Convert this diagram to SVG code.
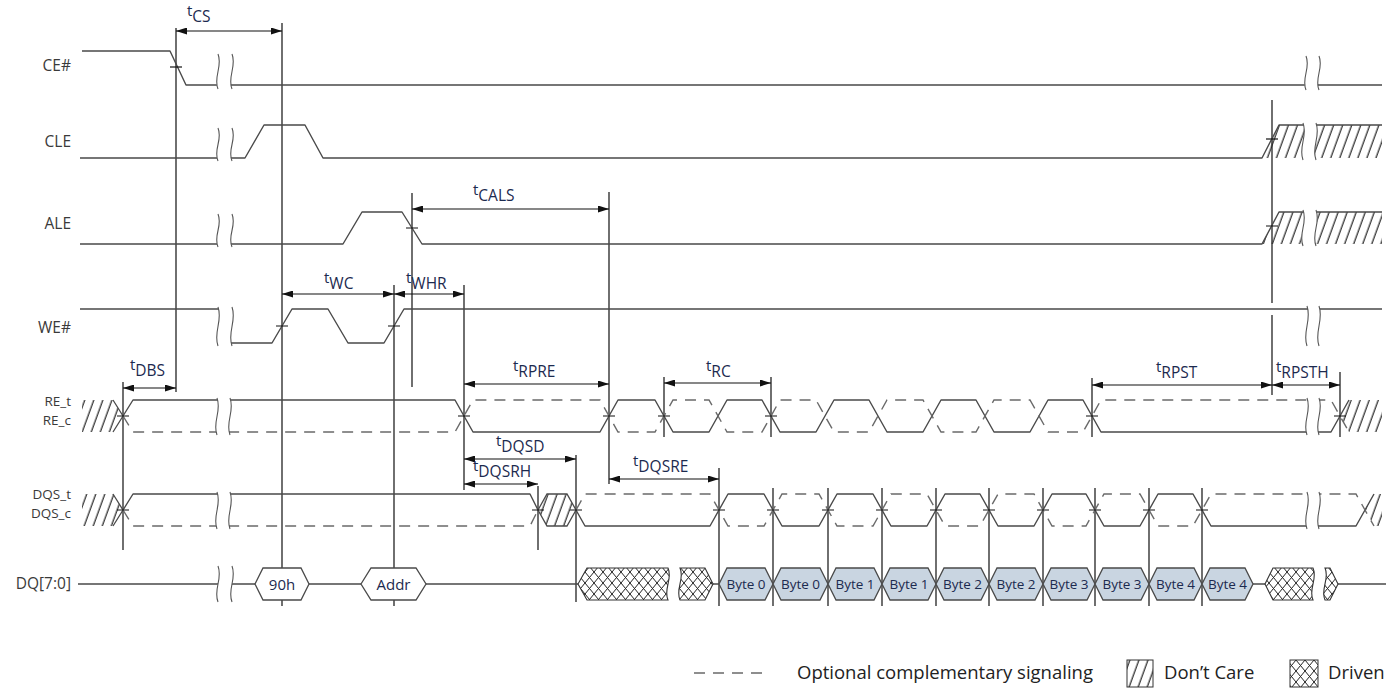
<svg xmlns="http://www.w3.org/2000/svg" width="1400" height="691" viewBox="0 0 1400 691">
<style>
.sig{fill:none;stroke:#4a4a4a;stroke-width:1.4;stroke-linejoin:round}
.dash{fill:none;stroke:#6a6a6a;stroke-width:1.4;stroke-dasharray:11 8}
.vl{stroke:#111;stroke-width:1.2;fill:none}
.tick{stroke:#111;stroke-width:1.2;fill:none}
.arr{stroke:#111;stroke-width:1.2;fill:none}
.lbl{font-family:"Open Sans","Liberation Sans",sans-serif;font-size:15.5px;fill:#3a3a3a;text-anchor:end}
.lbs{font-family:"Open Sans","Liberation Sans",sans-serif;font-size:13.5px;fill:#3a3a3a;text-anchor:end}
.tl{font-family:"Open Sans","Liberation Sans",sans-serif;font-size:15px;fill:#1c2a4f}
.hx{fill:#fff;stroke:#4a4a4a;stroke-width:1.3}
.bx{fill:#c9d5e1;stroke:#4a4a4a;stroke-width:1.3}
.bt{font-family:"Open Sans","Liberation Sans",sans-serif;font-size:13.5px;fill:#1c2a4f;text-anchor:middle}
.ht{font-family:"Open Sans","Liberation Sans",sans-serif;font-size:15px;fill:#1c2a4f;text-anchor:middle}
.gap{fill:#fff;stroke:none}
.sq{fill:none;stroke:#555;stroke-width:1.1}
.hatch{fill:url(#hp);stroke:none}
.hol{fill:none;stroke:#4a4a4a;stroke-width:1.3}
.drv{fill:url(#dp);stroke:#333;stroke-width:1.1}
.leg{font-family:"Open Sans","Liberation Sans",sans-serif;font-size:18.5px;fill:#222}
</style>
<defs>
<marker id="ah" viewBox="0 0 11 7" refX="11" refY="3.5" markerWidth="11" markerHeight="7" markerUnits="userSpaceOnUse" orient="auto-start-reverse"><path d="M0,0 L11,3.5 L0,7 Z" fill="#111"/></marker>
<pattern id="hp" patternUnits="userSpaceOnUse" width="8.5" height="8" patternTransform="rotate(20)"><path d="M4,-1 V9" stroke="#222" stroke-width="1.2"/></pattern>
<pattern id="dp" patternUnits="userSpaceOnUse" width="9" height="11"><path d="M0,0 L9,11 M9,0 L0,11" stroke="#222" stroke-width="1"/></pattern>
</defs>
<rect width="1400" height="691" fill="#fff"/>

<g id="verticals">
<path class="vl" d="M176,28 V392 M282,23 V606 M412,193 V387 M394,285 V606 M464,285 V490 M609,192 V484 M123,382 V550 M538,486 V550 M576,455 V602 M664,377 V437 M771,377 V437 M1092,378 V437 M1340,372 V437 M1272,100 V303 M1272,315 V395 M719,468 V606 M773,488 V606 M828,488 V606 M882,488 V606 M936,488 V606 M989,488 V606 M1043,488 V606 M1095,488 V606 M1149,488 V606 M1202,488 V606"/>
</g>

<g id="ce">
<text class="lbl" x="71" y="71">CE#</text>
<path class="sig" d="M82,51 H170 L186,85 H1382"/>
<path class="tick" d="M170,67 H182"/>
</g>

<g id="cle">
<text class="lbl" x="71" y="147">CLE</text>
<polygon class="hatch" points="1262,158 1279,125 1382,125 1382,158"/>
<path class="sig" d="M80,158 H245 L264,125 H305 L323,158 H1262 L1279,125 H1382"/>
<path class="tick" d="M1266,139 H1278"/>
</g>

<g id="ale">
<text class="lbl" x="71" y="229">ALE</text>
<polygon class="hatch" points="1262,244 1279,212 1382,212 1382,244"/>
<path class="sig" d="M80,244 H343 L362,212 H402 L422,244 H1262 L1279,212 H1382"/>
<path class="tick" d="M406,228 H418 M1266,226 H1278"/>
</g>

<g id="we">
<text class="lbl" x="71" y="333">WE#</text>
<path class="sig" d="M80,309 H222 L228,343 H272 L292,309 H328 L348,343 H384 L404,309 H1382"/>
<path class="tick" d="M276,326 H288 M388,326 H400"/>
</g>

<g id="re">
<text class="lbs" x="71" y="406">RE_t</text>
<text class="lbs" x="71" y="425">RE_c</text>
<polygon class="hatch" points="82,400 113,400 123,416 113,432 82,432"/>
<path class="hol" d="M113,400 L123,416 L113,432"/>
<polygon class="hatch" points="1340,416 1349,400 1382,400 1382,432 1349,432"/>
<path class="sig" d="M123,416 L133,400 H455 L473,432 H600 L618,400 H655 L673,432 H709 L727,400 H762 L780,432 H816 L834,400 H869 L887,432 H923 L941,400 H976 L994,432 H1030 L1048,400 H1083 L1101,432 H1331 L1349,400"/>
<path class="dash" d="M123,416 L133,432 H455 L473,400 H600 L618,432 H655 L673,400 H709 L727,432 H762 L780,400 H816 L834,432 H869 L887,400 H923 L941,432 H976 L994,400 H1030 L1048,432 H1083 L1101,400 H1331 L1349,432"/>
<path class="tick" d="M117,416 H129 M458,416 H470 M603,416 H615 M658,416 H670 M765,416 H777 M1086,416 H1098 M1334,416 H1346"/>
</g>

<g id="dqs">
<text class="lbs" x="71" y="499">DQS_t</text>
<text class="lbs" x="71" y="518">DQS_c</text>
<polygon class="hatch" points="82,494 113,494 123,510 113,526 82,526"/>
<path class="hol" d="M113,494 L123,510 L113,526"/>
<polygon class="hatch" points="538,510 547,494 567,494 576,510 567,526 547,526"/>
<path class="hol" d="M538,510 L547,494 H567 L576,510 L567,526 H547 Z"/>
<polygon class="hatch" points="1365,510 1374,494 1382,494 1382,526 1374,526"/>
<path class="sig" d="M123,510 L133,494 H530 L538,510 M576,510 L585,526 H710 L728,494 H764 L782,526 H819 L837,494 H873 L891,526 H927 L945,494 H980 L998,526 H1034 L1052,494 H1086 L1104,526 H1140 L1158,494 H1193 L1211,526 H1356 L1365,510 L1374,494"/>
<path class="dash" d="M123,510 L133,526 H530 L538,510 M576,510 L585,494 H710 L728,526 H764 L782,494 H819 L837,526 H873 L891,494 H927 L945,526 H980 L998,494 H1034 L1052,526 H1086 L1104,494 H1140 L1158,526 H1193 L1211,494 H1356 L1365,510 L1374,526"/>
<path class="tick" d="M117,510 H129 M532,510 H544 M570,510 H582 M713,510 H725 M767,510 H779 M822,510 H834 M876,510 H888 M930,510 H942 M983,510 H995 M1037,510 H1049 M1089,510 H1101 M1143,510 H1155 M1196,510 H1208"/>
</g>

<g id="dq">
<text class="lbl" x="71" y="589">DQ[7:0]</text>
<path class="sig" d="M78,584 H255 M309,584 H361 M426,584 H578 M713,584 H719 M1253,584 H1265 M1338,584 H1386"/>
<path class="drv" d="M578,584 L587,568 H668 C673,579 663,589 668,600 H587 Z"/>
<path class="drv" d="M680,568 C685,579 675,589 680,600 H705 L713,584 L705,568 Z"/>
<path class="drv" d="M1265,584 L1273,568 H1313 C1318,579 1308,589 1313,600 H1273 Z"/>
<path class="drv" d="M1325,568 C1330,579 1320,589 1325,600 H1330 L1338,584 L1330,568 Z"/>
<g id="dq-90h"><polygon class="hx" points="255,584 263,568 301,568 309,584 301,600 263,600"/><text class="ht" x="282" y="589.5">90h</text></g>
<g id="dq-addr"><polygon class="hx" points="361,584 371,568 416,568 426,584 416,600 371,600"/><text class="ht" x="393.5" y="589.5">Addr</text></g>
<g id="dq-bytes">
<polygon class="bx" points="719,584 727,568 765,568 773,584 765,600 727,600"/><text class="bt" x="746" y="589">Byte 0</text>
<polygon class="bx" points="773,584 781,568 820,568 828,584 820,600 781,600"/><text class="bt" x="800.5" y="589">Byte 0</text>
<polygon class="bx" points="828,584 836,568 874,568 882,584 874,600 836,600"/><text class="bt" x="855" y="589">Byte 1</text>
<polygon class="bx" points="882,584 890,568 928,568 936,584 928,600 890,600"/><text class="bt" x="909" y="589">Byte 1</text>
<polygon class="bx" points="936,584 944,568 981,568 989,584 981,600 944,600"/><text class="bt" x="962.5" y="589">Byte 2</text>
<polygon class="bx" points="989,584 997,568 1035,568 1043,584 1035,600 997,600"/><text class="bt" x="1016" y="589">Byte 2</text>
<polygon class="bx" points="1043,584 1051,568 1087,568 1095,584 1087,600 1051,600"/><text class="bt" x="1069" y="589">Byte 3</text>
<polygon class="bx" points="1095,584 1103,568 1141,568 1149,584 1141,600 1103,600"/><text class="bt" x="1122" y="589">Byte 3</text>
<polygon class="bx" points="1149,584 1157,568 1194,568 1202,584 1194,600 1157,600"/><text class="bt" x="1175.5" y="589">Byte 4</text>
<polygon class="bx" points="1202,584 1210,568 1245,568 1253,584 1245,600 1210,600"/><text class="bt" x="1227.5" y="589">Byte 4</text>
</g>
</g>

<g id="breaks">
<path class="gap" d="M218,54 C223,66 213,77 218,89 L232,89 C227,77 237,66 232,54 Z M218,128 C223,140 213,149 218,161 L232,161 C227,149 237,140 232,128 Z M218,214 C223,226 213,235 218,247 L232,247 C227,235 237,226 232,214 Z M218,307 C223,321 213,332 218,346 L232,346 C227,332 237,321 232,307 Z M217,398 C222,411 212,422 217,435 L230,435 C225,422 235,411 230,398 Z M217,492 C222,505 212,516 217,529 L230,529 C225,516 235,505 230,492 Z M218,566 C223,579 213,589 218,602 L232,602 C227,589 237,579 232,566 Z M1306,56 C1311,68 1301,78 1306,90 L1319,90 C1314,78 1324,68 1319,56 Z M1303,123 C1308,136 1298,147 1303,160 L1316,160 C1311,147 1321,136 1316,123 Z M1303,210 C1308,223 1298,233 1303,246 L1316,246 C1311,233 1321,223 1316,210 Z M1307,306 C1312,320 1302,332 1307,346 L1319,346 C1314,332 1324,320 1319,306 Z M1307,398 C1312,411 1302,422 1307,435 L1319,435 C1314,422 1324,411 1319,398 Z M1307,492 C1312,505 1302,516 1307,529 L1319,529 C1314,516 1324,505 1319,492 Z"/>
<path class="sq" d="M218,54 C223,66 213,77 218,89 M232,54 C237,66 227,77 232,89 M218,128 C223,140 213,149 218,161 M232,128 C237,140 227,149 232,161 M218,214 C223,226 213,235 218,247 M232,214 C237,226 227,235 232,247 M218,307 C223,321 213,332 218,346 M232,307 C237,321 227,332 232,346 M217,398 C222,411 212,422 217,435 M230,398 C235,411 225,422 230,435 M217,492 C222,505 212,516 217,529 M230,492 C235,505 225,516 230,529 M218,566 C223,579 213,589 218,602 M232,566 C237,579 227,589 232,602 M1306,56 C1311,68 1301,78 1306,90 M1319,56 C1324,68 1314,78 1319,90 M1303,123 C1308,136 1298,147 1303,160 M1316,123 C1321,136 1311,147 1316,160 M1303,210 C1308,223 1298,233 1303,246 M1316,210 C1321,223 1311,233 1316,246 M1307,306 C1312,320 1302,332 1307,346 M1319,306 C1324,320 1314,332 1319,346 M1307,398 C1312,411 1302,422 1307,435 M1319,398 C1324,411 1314,422 1319,435 M1307,492 C1312,505 1302,516 1307,529 M1319,492 C1324,505 1314,516 1319,529"/>
</g>

<g id="connectors">
<path class="arr" marker-start="url(#ah)" marker-end="url(#ah)" d="M176,31 H282"/>
<path class="arr" marker-start="url(#ah)" marker-end="url(#ah)" d="M412,209 H609"/>
<path class="arr" marker-start="url(#ah)" marker-end="url(#ah)" d="M282,294 H394"/>
<path class="arr" marker-start="url(#ah)" marker-end="url(#ah)" d="M394,294 H464"/>
<path class="arr" marker-start="url(#ah)" marker-end="url(#ah)" d="M123,388 H176"/>
<path class="arr" marker-start="url(#ah)" marker-end="url(#ah)" d="M464,384 H609"/>
<path class="arr" marker-start="url(#ah)" marker-end="url(#ah)" d="M664,383 H771"/>
<path class="arr" marker-start="url(#ah)" marker-end="url(#ah)" d="M464,459 H576"/>
<path class="arr" marker-start="url(#ah)" marker-end="url(#ah)" d="M464,484 H538"/>
<path class="arr" marker-start="url(#ah)" marker-end="url(#ah)" d="M609,479 H719"/>
<path class="arr" marker-start="url(#ah)" marker-end="url(#ah)" d="M1092,385 H1272"/>
<path class="arr" marker-start="url(#ah)" marker-end="url(#ah)" d="M1272,385 H1340"/>
<text class="tl" x="187" y="16">t<tspan dy="6" font-size="15.5">CS</tspan></text>
<text class="tl" x="473" y="195">t<tspan dy="6" font-size="15.5">CALS</tspan></text>
<text class="tl" x="324" y="283">t<tspan dy="6" font-size="15.5">WC</tspan></text>
<text class="tl" x="406" y="283">t<tspan dy="6" font-size="15.5">WHR</tspan></text>
<text class="tl" x="130" y="370">t<tspan dy="6" font-size="15.5">DBS</tspan></text>
<text class="tl" x="513" y="371">t<tspan dy="6" font-size="15.5">RPRE</tspan></text>
<text class="tl" x="706" y="371">t<tspan dy="6" font-size="15.5">RC</tspan></text>
<text class="tl" x="496" y="446">t<tspan dy="6" font-size="15.5">DQSD</tspan></text>
<text class="tl" x="473" y="471">t<tspan dy="6" font-size="15.5">DQSRH</tspan></text>
<text class="tl" x="633" y="466">t<tspan dy="6" font-size="15.5">DQSRE</tspan></text>
<text class="tl" x="1156" y="372">t<tspan dy="6" font-size="15.5">RPST</tspan></text>
<text class="tl" x="1276" y="372">t<tspan dy="6" font-size="15.5">RPSTH</tspan></text>
</g>

<g id="legend">
<path class="dash" d="M694,673 H762"/>
<text class="leg" x="797" y="679">Optional complementary signaling</text>
<rect x="1127" y="660" width="26" height="27" fill="url(#hp)" stroke="#333" stroke-width="1"/>
<text class="leg" x="1164" y="679">Don’t Care</text>
<rect x="1290" y="660" width="28" height="27" fill="url(#dp)" stroke="#333" stroke-width="1"/>
<text class="leg" x="1328" y="679">Driven</text>
</g>
</svg>
